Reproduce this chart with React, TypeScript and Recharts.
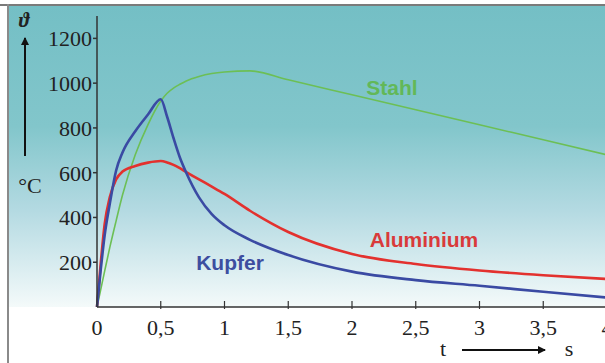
import { LineChart, Line, XAxis, YAxis } from "recharts";

const times = [0, 0.03, 0.06, 0.1, 0.15, 0.2, 0.3, 0.4, 0.5, 0.55, 0.6, 0.65, 0.7, 0.8, 0.9, 1.0, 1.2, 1.5, 2, 2.5, 3, 3.5, 4];
const stahl = [0, 80, 160, 265, 385, 500, 680, 815, 920, 955, 978, 995, 1010, 1030, 1043, 1050, 1055, 1015, 948, 881, 814, 747, 680];
const aluminium = [0, 200, 370, 490, 570, 605, 630, 645, 652, 646, 635, 620, 603, 570, 538, 505, 430, 335, 237, 192, 163, 142, 125];
const kupfer = [0, 170, 320, 460, 610, 690, 785, 860, 928, 850, 755, 668, 600, 490, 415, 365, 300, 232, 158, 120, 95, 68, 42];
const xTicks = [0, 0.5, 1, 1.5, 2, 2.5, 3, 3.5, 4];
const yTicks = [200, 400, 600, 800, 1000, 1200];

const data = times.map((t, i) => ({ t, stahl: stahl[i], aluminium: aluminium[i], kupfer: kupfer[i] }));

const serif = "'Liberation Serif', 'DejaVu Serif', serif";
const sans = "'Liberation Sans', Arial, sans-serif";

function XTick(props: any) {
  const { x, y, payload } = props;
  return (
    <g>
      {payload.value !== 0 && <line x1={x} x2={x} y1={y} y2={y - 8} stroke="#333" strokeWidth={1.2} />}
      <text x={x} y={y + 26} textAnchor="middle" fontFamily={serif} fontSize={22} fill="#222">
        {String(payload.value).replace(".", ",")}
      </text>
    </g>
  );
}

export default function App() {
  return (
    <div style={{ position: "absolute", left: 0, top: 0, width: 605, height: 363, overflow: "hidden", background: "#fff" }}>
      <div
        style={{
          position: "absolute",
          left: 9,
          top: 6,
          width: 600,
          height: 301,
          background: "linear-gradient(to bottom, #74bfc5 0%, #82c6cb 40%, #b4dae2 68%, #f4fafa 100%)",
        }}
      />
      <div style={{ position: "absolute", left: 0, top: 4, width: 605, height: 2, background: "#7a7a7a" }} />
      <div style={{ position: "absolute", left: 7, top: 4, width: 2, height: 359, background: "#8a8a8a" }} />
      <div style={{ position: "absolute", left: 0, top: 0 }}>
        <LineChart width={620} height={363} data={data} margin={{ top: 16, right: 13, left: 0, bottom: 16 }}>
          <XAxis
            dataKey="t"
            type="number"
            domain={[0, 4]}
            ticks={xTicks}
            tick={<XTick />}
            tickLine={false}
            tickSize={0}
            height={40}
            stroke="#333"
            strokeWidth={1.5}
          />
          <YAxis
            type="number"
            domain={[0, 1300]}
            ticks={yTicks}
            width={97}
            tickSize={4}
            tickMargin={1}
            stroke="#333"
            strokeWidth={1.5}
            tick={{ fontFamily: serif, fontSize: 22, fill: "#222" }}
          />
          <Line dataKey="stahl" type="monotone" stroke="#6cbf55" strokeWidth={1.6} dot={false} isAnimationActive={false} />
          <Line dataKey="aluminium" type="monotone" stroke="#e3312e" strokeWidth={2.6} dot={false} isAnimationActive={false} />
          <Line dataKey="kupfer" type="monotone" stroke="#3a4aa3" strokeWidth={2.6} dot={false} isAnimationActive={false} />
        </LineChart>
      </div>
      <svg width={605} height={363} style={{ position: "absolute", left: 0, top: 0 }}>
        <defs>
          <marker id="ah" markerWidth="8" markerHeight="8" refX="7" refY="4" orient="auto" markerUnits="userSpaceOnUse">
            <path d="M0,0 L8,4 L0,8 z" fill="#111" />
          </marker>
        </defs>
        <text x={24} y={27} textAnchor="middle" fontFamily={serif} fontStyle="italic" fontWeight="bold" fontSize={20} fill="#222">ϑ</text>
        <line x1={25} y1={156} x2={25} y2={38} stroke="#111" strokeWidth={2} markerEnd="url(#ah)" />
        <text x={30} y={193} textAnchor="middle" fontFamily={serif} fontSize={22} fill="#222">°C</text>
        <text x={443} y={356} textAnchor="middle" fontFamily={serif} fontSize={22} fill="#222">t</text>
        <line x1={462} y1={350} x2={545} y2={350} stroke="#111" strokeWidth={2} markerEnd="url(#ah)" />
        <text x={569} y={356} textAnchor="middle" fontFamily={serif} fontSize={22} fill="#222">s</text>
        <text x={392} y={95} textAnchor="middle" fontFamily={sans} fontWeight="bold" fontSize={21} fill="#62b858">Stahl</text>
        <text x={424} y={247} textAnchor="middle" fontFamily={sans} fontWeight="bold" fontSize={21} fill="#d93a3a">Aluminium</text>
        <text x={230} y={270} textAnchor="middle" fontFamily={sans} fontWeight="bold" fontSize={21} fill="#3d4ea0">Kupfer</text>
      </svg>
    </div>
  );
}
